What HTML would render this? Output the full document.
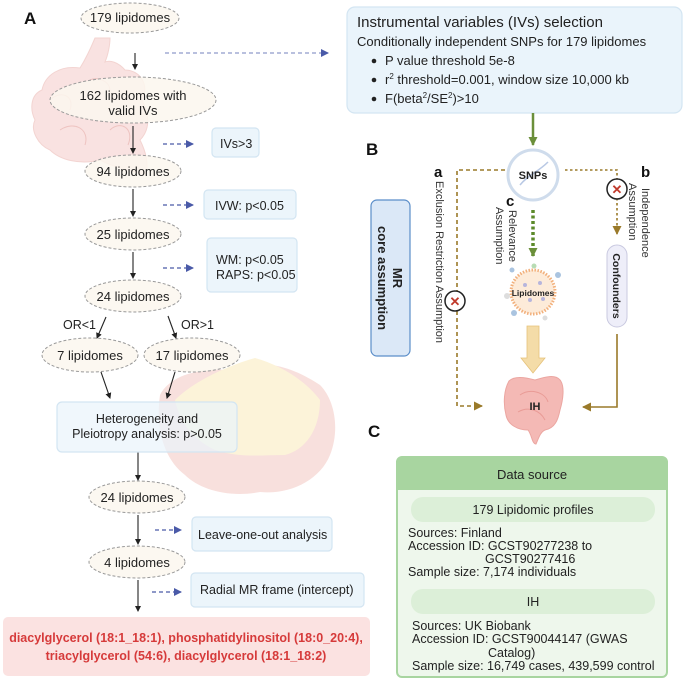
<!DOCTYPE html>
<html><head><meta charset="utf-8"><style>
html,body{margin:0;padding:0;background:#fff;}
svg{display:block;font-family:"Liberation Sans",sans-serif;}
</style></head><body>
<svg width="685" height="682" viewBox="0 0 685 682" xmlns="http://www.w3.org/2000/svg">
<defs>
<marker id="ak" markerWidth="6" markerHeight="6" refX="5" refY="3" orient="auto" markerUnits="userSpaceOnUse"><path d="M0,0 L6,3 L0,6 z" fill="#222"/></marker>
<marker id="ab" markerWidth="8" markerHeight="8" refX="7" refY="4" orient="auto" markerUnits="userSpaceOnUse"><path d="M0,0 L8,4 L0,8 z" fill="#4a5aa8"/></marker>
<marker id="ag" markerWidth="9" markerHeight="9" refX="8" refY="4.5" orient="auto" markerUnits="userSpaceOnUse"><path d="M0,0 L9,4.5 L0,9 z" fill="#6b8f3a"/></marker>
<marker id="ao" markerWidth="9" markerHeight="9" refX="8" refY="4.5" orient="auto" markerUnits="userSpaceOnUse"><path d="M0,0 L9,4.5 L0,9 z" fill="#9a7a2a"/></marker>
</defs>

<!-- intestine background top -->
<g fill="#f8dedc" stroke="#f1cdca" stroke-width="1" opacity="0.85">
<path d="M95,38 C90,50 85,60 80,68 C60,65 45,75 42,90 C30,95 30,110 35,120 C30,130 38,145 50,150 C60,160 80,165 100,160 C115,168 130,170 145,175 C150,165 145,150 140,140 C150,130 150,115 142,100 C150,85 140,70 125,70 C118,62 110,60 105,62 C108,55 110,45 110,38 Z"/>
</g>
<g fill="none" stroke="#eec3c0" stroke-width="1">
<path d="M50,100 C60,90 75,95 70,110"/><path d="M60,130 C75,120 90,130 85,145"/><path d="M90,80 C100,75 115,85 108,95"/><path d="M110,130 C120,120 135,128 128,145"/>
</g>
<!-- mesentery background -->
<g opacity="0.7">
<path d="M160,395 C170,375 200,368 230,370 C260,358 290,365 320,385 C335,400 340,430 330,455 C320,480 290,495 260,492 C230,498 200,490 185,475 C165,460 155,430 160,395 Z" fill="#f6d3cf"/>
<path d="M175,400 C195,380 230,365 255,358 C280,365 305,380 320,400 C320,430 305,450 285,455 C260,455 240,458 215,450 C195,440 180,425 175,400 Z" fill="#fbefc9"/>
</g>

<text x="24" y="24" font-size="17" font-weight="bold" fill="#111">A</text>

<g fill="#fbf7ee" fill-opacity="0.85" stroke="#999" stroke-width="1" stroke-dasharray="3,2">
<ellipse cx="130" cy="18" rx="49" ry="15"/>
<ellipse cx="133" cy="100" rx="83" ry="23"/>
<ellipse cx="133" cy="171" rx="48" ry="16"/>
<ellipse cx="133" cy="234" rx="48" ry="16"/>
<ellipse cx="133" cy="296" rx="48" ry="16"/>
<ellipse cx="90" cy="355" rx="48" ry="17"/>
<ellipse cx="192" cy="355" rx="48" ry="17"/>
<ellipse cx="137" cy="497" rx="48" ry="16"/>
<ellipse cx="137" cy="562" rx="48" ry="16"/>
</g>
<g font-size="13" fill="#222" text-anchor="middle">
<text x="130" y="22">179 lipidomes</text>
<text x="133" y="100">162 lipidomes with</text>
<text x="133" y="115">valid IVs</text>
<text x="133" y="176">94 lipidomes</text>
<text x="133" y="239">25 lipidomes</text>
<text x="133" y="301">24 lipidomes</text>
<text x="90" y="360">7 lipidomes</text>
<text x="192" y="360">17 lipidomes</text>
<text x="137" y="502">24 lipidomes</text>
<text x="137" y="567">4 lipidomes</text>
</g>

<g stroke="#222" stroke-width="1.1" marker-end="url(#ak)">
<line x1="135" y1="53" x2="135" y2="69"/>
<line x1="133" y1="126" x2="133" y2="153"/>
<line x1="133" y1="189" x2="133" y2="216"/>
<line x1="133" y1="252" x2="133" y2="278"/>
<line x1="106" y1="317" x2="97" y2="338"/>
<line x1="168" y1="316" x2="176" y2="338"/>
<line x1="101" y1="372" x2="110" y2="398"/>
<line x1="175" y1="372" x2="167" y2="398"/>
<line x1="138" y1="452" x2="138" y2="480"/>
<line x1="138" y1="515" x2="138" y2="544"/>
<line x1="138" y1="580" x2="138" y2="611"/>
</g>
<g font-size="12.5" fill="#222">
<text x="63" y="329">OR&lt;1</text>
<text x="181" y="329">OR&gt;1</text>
</g>

<g stroke="#4a5aa8" stroke-width="1.3" stroke-dasharray="4,3" marker-end="url(#ab)">
<line x1="165" y1="53" x2="328" y2="53" stroke="#8f9ac9"/>
<line x1="163" y1="144" x2="193" y2="144"/>
<line x1="163" y1="205" x2="193" y2="205"/>
<line x1="163" y1="268" x2="193" y2="268"/>
<line x1="155" y1="530" x2="181" y2="530"/>
<line x1="152" y1="592" x2="181" y2="592"/>
</g>

<g fill="#eaf4fb" fill-opacity="0.9" stroke="#d3e5f2" stroke-width="1.2">
<rect x="212" y="128" width="47" height="29" rx="4"/>
<rect x="204" y="190" width="92" height="29" rx="4"/>
<rect x="207" y="238" width="90" height="54" rx="4"/>
<rect x="57" y="402" width="180" height="50" rx="5" fill-opacity="0.7"/>
<rect x="192" y="517" width="140" height="34" rx="4"/>
<rect x="191" y="573" width="173" height="34" rx="4"/>
</g>
<g font-size="12.5" fill="#222">
<text x="220" y="148">IVs&gt;3</text>
<text x="215" y="210">IVW: p&lt;0.05</text>
<text x="216" y="264">WM: p&lt;0.05</text>
<text x="216" y="279">RAPS: p&lt;0.05</text>
<text x="147" y="423" text-anchor="middle">Heterogeneity and</text>
<text x="147" y="438" text-anchor="middle">Pleiotropy analysis: p&gt;0.05</text>
<text x="198" y="539">Leave-one-out analysis</text>
<text x="200" y="594">Radial MR frame (intercept)</text>
</g>

<rect x="3" y="617" width="367" height="59" rx="5" fill="#fbe2e1"/>
<g font-size="12.5" font-weight="bold" fill="#d63a3a" text-anchor="middle">
<text x="186" y="642">diacylglycerol (18:1_18:1), phosphatidylinositol (18:0_20:4),</text>
<text x="186" y="660">triacylglycerol (54:6), diacylglycerol (18:1_18:2)</text>
</g>

<rect x="347" y="7" width="335" height="106" rx="8" fill="#eaf4fb" stroke="#d3e5f2" stroke-width="1.2"/>
<g fill="#222">
<text x="357" y="27" font-size="15">Instrumental variables (IVs) selection</text>
<text x="357" y="46" font-size="13">Conditionally independent SNPs for 179 lipidomes</text>
<circle cx="374" cy="61" r="2.3"/><circle cx="374" cy="80" r="2.3"/><circle cx="374" cy="99" r="2.3"/>
<text x="385" y="65" font-size="13">P value threshold 5e-8</text>
<text x="385" y="84" font-size="13">r<tspan font-size="8" dy="-5">2</tspan><tspan dy="5"> threshold=0.001,  window size 10,000 kb</tspan></text>
<text x="385" y="103" font-size="13">F(beta<tspan font-size="8" dy="-5">2</tspan><tspan dy="5">/SE</tspan><tspan font-size="8" dy="-5">2</tspan><tspan dy="5">)&gt;10</tspan></text>
</g>

<text x="366" y="155" font-size="17" font-weight="bold" fill="#111">B</text>
<line x1="533" y1="113" x2="533" y2="145" stroke="#6b8f3a" stroke-width="2.5" marker-end="url(#ag)"/>

<rect x="371" y="200" width="39" height="156" rx="6" fill="#dbe8f7" stroke="#5b8ec9" stroke-width="1.2"/>
<g transform="translate(390,278) rotate(90)" font-size="13" font-weight="bold" fill="#222" text-anchor="middle">
<text x="0" y="-3">MR</text>
<text x="0" y="12">core assumption</text>
</g>

<circle cx="533" cy="175" r="25" fill="#fff" stroke="#cfdcec" stroke-width="3"/>
<path d="M520,185 C528,175 538,172 548,162" stroke="#b8c8e4" stroke-width="1.5" fill="none"/>
<text x="533" y="179" font-size="11" font-weight="bold" fill="#222" text-anchor="middle">SNPs</text>

<g stroke="#9a7a2a" stroke-width="1.6" stroke-dasharray="4,3" fill="none">
<polyline points="505,170 457,170 457,406 482,406" marker-end="url(#ao)"/>
<polyline points="565,170 617,170 617,234" stroke-dasharray="2.5,2.5" marker-end="url(#ao)"/>
</g>
<polyline points="617,334 617,407 583,407" stroke="#9a7a2a" stroke-width="1.6" fill="none" marker-end="url(#ao)"/>
<g>
<circle cx="455" cy="301" r="10" fill="#fff" stroke="#222" stroke-width="1.5"/>
<text x="455" y="306" font-size="13" font-weight="bold" fill="#c0392b" text-anchor="middle">✕</text>
<circle cx="617" cy="189" r="10" fill="#fff" stroke="#222" stroke-width="1.5"/>
<text x="617" y="194" font-size="13" font-weight="bold" fill="#c0392b" text-anchor="middle">✕</text>
</g>
<g font-weight="bold" font-size="15" fill="#111">
<text x="434" y="177">a</text>
<text x="641" y="177">b</text>
<text x="506" y="206">c</text>
</g>
<g font-size="11" fill="#333">
<text transform="translate(436,181) rotate(90)">Exclusion Restriction Assumption</text>
<text transform="translate(642,188) rotate(90)">Independence</text>
<text transform="translate(629,183) rotate(90)">Assumption</text>
<text transform="translate(509,210) rotate(90)">Relevance</text>
<text transform="translate(496,207) rotate(90)">Assumption</text>
</g>

<line x1="533" y1="210" x2="533" y2="256" stroke="#5c8a2a" stroke-width="3.5" stroke-dasharray="3,2.5" marker-end="url(#ag)"/>

<g>
<circle cx="533" cy="292" r="22" fill="#fdebd9" stroke="#f2b07c" stroke-width="3" stroke-dasharray="1.5,1.5"/>
<circle cx="525" cy="285" r="2" fill="#b7b5dc"/><circle cx="540" cy="283" r="2" fill="#b7b5dc"/><circle cx="530" cy="300" r="2" fill="#b7b5dc"/><circle cx="543" cy="299" r="2" fill="#b7b5dc"/>
<circle cx="512" cy="270" r="2.5" fill="#aac4e0"/><circle cx="558" cy="275" r="3" fill="#aac4e0"/><circle cx="534" cy="266" r="2.5" fill="#b8dcb4"/><circle cx="514" cy="313" r="3" fill="#aac4e0"/><circle cx="545" cy="318" r="2.5" fill="#ddd"/><circle cx="507" cy="296" r="3" fill="#ddd"/>
<text x="533" y="296" font-size="8.5" font-weight="bold" fill="#222" text-anchor="middle">Lipidomes</text>
</g>
<path d="M527,326 L539,326 L539,358 L545,358 L533,373 L521,358 L527,358 Z" fill="#f4dca8" stroke="#e6c27a" stroke-width="0.8"/>

<g>
<path d="M509,381 C515,375 528,378 535,380 C545,377 555,374 560,380 C565,386 563,400 560,410 C558,420 555,428 545,430 C540,432 538,440 536,444 C532,444 532,435 528,430 C518,430 508,425 506,415 C503,403 504,390 509,381 Z" fill="#f4b9b5" stroke="#eba6a1" stroke-width="1"/>
<path d="M520,395 C530,388 545,392 548,402 M518,412 C528,406 540,410 545,420" stroke="#e99b96" fill="none"/>
<text x="535" y="410" font-size="11" font-weight="bold" fill="#222" text-anchor="middle">IH</text>
</g>

<rect x="607" y="245" width="20" height="82" rx="10" fill="#eeeef9" stroke="#c9c9e0" stroke-width="1"/>
<text transform="translate(613,286) rotate(90)" font-size="10.5" font-weight="bold" fill="#222" text-anchor="middle">Confounders</text>

<text x="368" y="437" font-size="17" font-weight="bold" fill="#111">C</text>

<rect x="397" y="457" width="270" height="220" rx="5" fill="#eef7ec" stroke="#a8d5a0" stroke-width="2"/>
<path d="M397,462 a5,5 0 0 1 5,-5 h260 a5,5 0 0 1 5,5 v28 h-270 z" fill="#a8d5a0"/>
<rect x="411" y="497" width="244" height="25" rx="12" fill="#dcefd8"/>
<rect x="411" y="589" width="244" height="25" rx="12" fill="#dcefd8"/>
<g font-size="12.5" fill="#222">
<text x="532" y="479" text-anchor="middle" font-size="13">Data source</text>
<text x="533" y="514" text-anchor="middle">179 Lipidomic profiles</text>
<text x="408" y="537">Sources: Finland</text>
<text x="408" y="550">Accession ID: GCST90277238 to</text>
<text x="485" y="563">GCST90277416</text>
<text x="408" y="576">Sample size: 7,174 individuals</text>
<text x="533" y="606" text-anchor="middle">IH</text>
<text x="412" y="630">Sources: UK Biobank</text>
<text x="412" y="643">Accession ID: GCST90044147 (GWAS</text>
<text x="488" y="657">Catalog)</text>
<text x="412" y="670">Sample size: 16,749 cases, 439,599 control</text>
</g>
</svg>
</body></html>
